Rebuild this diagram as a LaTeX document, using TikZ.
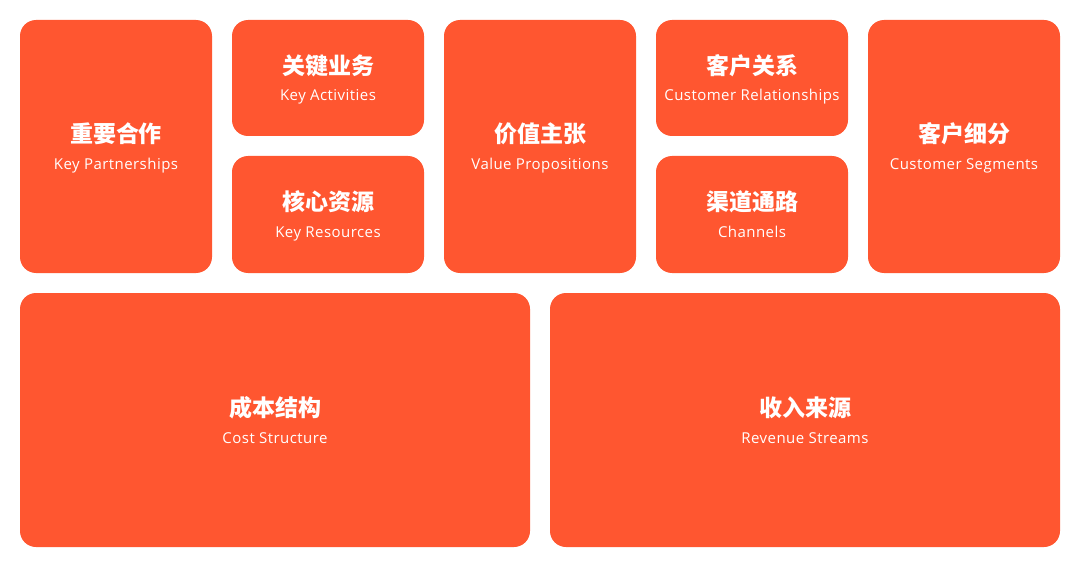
\documentclass[tikz,border=0pt]{standalone}
\usepackage{fontspec}
\setmainfont{Noto Sans CJK SC}
\newfontfamily\latinfont[LetterSpace=3]{Open Sans}
\usetikzlibrary{positioning, calc}
\definecolor{canvasred}{HTML}{FF5630}

\begin{document}
\begin{tikzpicture}[x=1pt, y=-1pt,
    cell/.style={fill=canvasred, rounded corners=16pt, inner sep=0pt},
    zhlabel/.style={text=white, anchor=base, font=\fontsize{23}{27}\selectfont\bfseries},
    enlabel/.style={text=white, anchor=base, font=\latinfont\fontsize{15}{18}\selectfont}]
  \useasboundingbox (0,0) rectangle (1080,567);

  % Blocks: name / centre x / centre y / width / height / Chinese / English
  \foreach \n/\x/\y/\w/\h/\zh/\en in {
      kp/116/146.5/192/253/重要合作/Key Partnerships,
      ka/328/78/192/116/关键业务/Key Activities,
      kr/328/214.5/192/117/核心资源/Key Resources,
      vp/540/146.5/192/253/价值主张/Value Propositions,
      cr/752/78/192/116/客户关系/Customer Relationships,
      ch/752/214.5/192/117/渠道通路/Channels,
      cs/964/146.5/192/253/客户细分/Customer Segments,
      cost/275/420/510/254/成本结构/Cost Structure,
      rev/805/420/510/254/收入来源/Revenue Streams}
  {
    \node[cell, minimum width=\w pt, minimum height=\h pt] (\n) at (\x,\y) {};
    \node[zhlabel] (\n-zh) at ([yshift=3.5pt]\n.center) {\zh};
    \node[enlabel] (\n-en) at ([yshift=-23pt]\n.center) {\en};
  }
\end{tikzpicture}
\end{document}
